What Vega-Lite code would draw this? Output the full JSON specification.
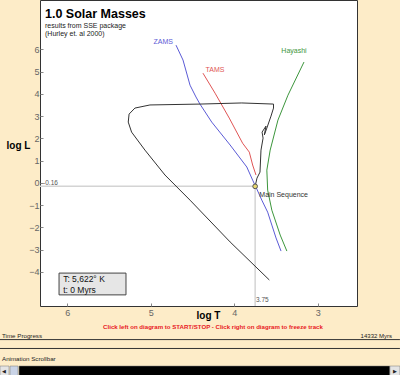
{
  "$schema": "https://vega.github.io/schema/vega-lite/v6.json",
  "width": 317,
  "height": 306,
  "autosize": {"type": "none"},
  "padding": {"left": 40, "top": 0, "right": 43, "bottom": 69},
  "background": "#FDECC8",
  "config": {
    "view": {"fill": "white", "stroke": "#333333", "strokeWidth": 1},
    "axis": {
      "grid": false,
      "domain": false,
      "format": "d",
      "labelOverlap": false,
      "labelFont": "Liberation Sans",
      "labelFontSize": 9,
      "labelColor": "#666666",
      "tickColor": "#888888",
      "tickSize": -3,
      "titleFont": "Liberation Sans",
      "titleFontWeight": "bold",
      "titleFontSize": 10,
      "titleColor": "#000000"
    }
  },
  "datasets": {
    "curves": [
      {"curve": "ZAMS", "order": 1, "logT": 4.698, "logL": 6.19},
      {"curve": "ZAMS", "order": 2, "logT": 4.614, "logL": 5.52},
      {"curve": "ZAMS", "order": 3, "logT": 4.53, "logL": 4.39},
      {"curve": "ZAMS", "order": 4, "logT": 4.459, "logL": 3.86},
      {"curve": "ZAMS", "order": 5, "logT": 4.411, "logL": 3.54},
      {"curve": "ZAMS", "order": 6, "logT": 4.27, "logL": 2.73},
      {"curve": "ZAMS", "order": 7, "logT": 4.05, "logL": 1.70},
      {"curve": "ZAMS", "order": 8, "logT": 3.85, "logL": 0.71},
      {"curve": "ZAMS", "order": 9, "logT": 3.78, "logL": 0.12},
      {"curve": "ZAMS", "order": 10, "logT": 3.73, "logL": -0.28},
      {"curve": "ZAMS", "order": 11, "logT": 3.67, "logL": -0.78},
      {"curve": "ZAMS", "order": 12, "logT": 3.60, "logL": -1.32},
      {"curve": "ZAMS", "order": 13, "logT": 3.55, "logL": -1.90},
      {"curve": "ZAMS", "order": 14, "logT": 3.50, "logL": -2.48},
      {"curve": "ZAMS", "order": 15, "logT": 3.44, "logL": -3.07},
      {"curve": "TAMS", "order": 1, "logT": 4.375, "logL": 4.93},
      {"curve": "TAMS", "order": 2, "logT": 4.23, "logL": 4.03},
      {"curve": "TAMS", "order": 3, "logT": 4.06, "logL": 2.91},
      {"curve": "TAMS", "order": 4, "logT": 3.90, "logL": 1.78},
      {"curve": "TAMS", "order": 5, "logT": 3.82, "logL": 1.38},
      {"curve": "TAMS", "order": 6, "logT": 3.78, "logL": 0.80},
      {"curve": "TAMS", "order": 7, "logT": 3.74, "logL": 0.35},
      {"curve": "Hayashi", "order": 1, "logT": 3.165, "logL": 5.43},
      {"curve": "Hayashi", "order": 2, "logT": 3.357, "logL": 3.94},
      {"curve": "Hayashi", "order": 3, "logT": 3.477, "logL": 2.82},
      {"curve": "Hayashi", "order": 4, "logT": 3.57, "logL": 1.47},
      {"curve": "Hayashi", "order": 5, "logT": 3.61, "logL": 0.57},
      {"curve": "Hayashi", "order": 6, "logT": 3.60, "logL": -0.33},
      {"curve": "Hayashi", "order": 7, "logT": 3.55, "logL": -1.23},
      {"curve": "Hayashi", "order": 8, "logT": 3.45, "logL": -2.35},
      {"curve": "Hayashi", "order": 9, "logT": 3.37, "logL": -3.07},
      {"curve": "track", "order": 1, "logT": 3.75, "logL": -0.16},
      {"curve": "track", "order": 2, "logT": 3.728, "logL": 0.21},
      {"curve": "track", "order": 3, "logT": 3.692, "logL": 0.48},
      {"curve": "track", "order": 4, "logT": 3.68, "logL": 1.47},
      {"curve": "track", "order": 5, "logT": 3.655, "logL": 2.01},
      {"curve": "track", "order": 6, "logT": 3.667, "logL": 2.28},
      {"curve": "track", "order": 7, "logT": 3.62, "logL": 2.55},
      {"curve": "track", "order": 8, "logT": 3.64, "logL": 2.15},
      {"curve": "track", "order": 9, "logT": 3.61, "logL": 2.46},
      {"curve": "track", "order": 10, "logT": 3.56, "logL": 3.0},
      {"curve": "track", "order": 11, "logT": 3.53, "logL": 3.36},
      {"curve": "track", "order": 12, "logT": 3.53, "logL": 3.54},
      {"curve": "track", "order": 13, "logT": 3.91, "logL": 3.59},
      {"curve": "track", "order": 14, "logT": 4.41, "logL": 3.54},
      {"curve": "track", "order": 15, "logT": 5.01, "logL": 3.50},
      {"curve": "track", "order": 16, "logT": 5.19, "logL": 3.36},
      {"curve": "track", "order": 17, "logT": 5.26, "logL": 3.09},
      {"curve": "track", "order": 18, "logT": 5.27, "logL": 2.73},
      {"curve": "track", "order": 19, "logT": 5.23, "logL": 2.28},
      {"curve": "track", "order": 20, "logT": 5.07, "logL": 1.47},
      {"curve": "track", "order": 21, "logT": 4.83, "logL": 0.35},
      {"curve": "track", "order": 22, "logT": 4.53, "logL": -0.78},
      {"curve": "track", "order": 23, "logT": 4.05, "logL": -2.66},
      {"curve": "track", "order": 24, "logT": 3.58, "logL": -4.37}
    ],
    "star": [{"logT": 3.75, "logL": -0.16, "edgeT": 6.327, "edgeL": -5.54}],
    "box": [{"logT": 6.099, "logT2": 5.297, "logL": -4.06, "logL2": -5.04}],
    "labels": [
      {"role": "title", "logT": 6.267, "logL": 7.59, "text": "1.0 Solar Masses"},
      {"role": "sub", "logT": 6.267, "logL": 7.05, "text": "results from SSE package"},
      {"role": "sub", "logT": 6.267, "logL": 6.69, "text": "(Hurley et. al 2000)"},
      {"role": "curve", "curve": "ZAMS", "logT": 4.85, "logL": 6.33, "text": "ZAMS"},
      {"role": "curve", "curve": "TAMS", "logT": 4.23, "logL": 5.07, "text": "TAMS"},
      {"role": "curve", "curve": "Hayashi", "logT": 3.285, "logL": 5.92, "text": "Hayashi"},
      {"role": "ms", "logT": 3.70, "logL": -0.55, "text": "Main Sequence"},
      {"role": "cross", "logT": 6.29, "logL": 0.0, "text": "-0.16"},
      {"role": "cross", "logT": 3.74, "logL": -5.27, "text": "3.75"},
      {"role": "info", "logT": 6.05, "logL": -4.33, "text": "T: 5,622° K"},
      {"role": "info", "logT": 6.05, "logL": -4.82, "text": "t: 0 Myrs"},
      {"role": "red", "logT": 4.255, "logL": -6.49, "text": "Click left on diagram to START/STOP - Click right on diagram to freeze track"},
      {"role": "ui", "logT": 6.782, "logL": -6.89, "text": "Time Progress"},
      {"role": "uiR", "logT": 2.111, "logL": -6.89, "text": "14332 Myrs"},
      {"role": "ui", "logT": 6.782, "logL": -7.93, "text": "Animation Scrollbar"},
      {"role": "arrow", "logT": 6.76, "logL": -8.45, "text": "◀"},
      {"role": "arrow", "logT": 2.075, "logL": -8.45, "text": "▶"}
    ],
    "uilines": [
      {"logT": 6.806, "logT2": 2.016, "logL": -7.05},
      {"logT": 6.806, "logT2": 2.016, "logL": -7.45}
    ],
    "scroll": [
      {"part": "bar", "logT": 6.578, "logT2": 2.136, "logL": -8.24, "logL2": -8.7},
      {"part": "button", "logT": 6.806, "logT2": 6.698, "logL": -8.24, "logL2": -8.7},
      {"part": "thumb", "logT": 6.686, "logT2": 6.59, "logL": -8.24, "logL2": -8.7},
      {"part": "button", "logT": 2.136, "logT2": 2.016, "logL": -8.24, "logL2": -8.7}
    ]
  },
  "layer": [
    {
      "data": {"name": "box"},
      "mark": {"type": "rect", "fill": "#e6e6e6", "stroke": "#444444", "strokeWidth": 1},
      "encoding": {
        "x": {"field": "logT", "type": "quantitative", "scale": {"domain": [2.53, 6.327], "reverse": true, "nice": false, "zero": false},
          "axis": {"values": [3, 4, 5, 6], "labelPadding": 5, "title": "log T", "titleX": 168, "titleY": 9, "titleBaseline": "middle", "titleAlign": "center"}},
        "x2": {"field": "logT2"},
        "y": {"field": "logL", "type": "quantitative", "scale": {"domain": [-5.54, 8.22], "nice": false, "zero": false},
          "axis": {"values": [-4, -3, -2, -1, 0, 1, 2, 3, 4, 5, 6], "tickCount": 12, "labelPadding": 4, "title": "log L", "titleAngle": 0, "titleX": -22, "titleY": 145, "titleBaseline": "middle", "titleAlign": "center"}},
        "y2": {"field": "logL2"}
      }
    },
    {
      "data": {"name": "star"},
      "mark": {"type": "rule", "color": "#d4d4d4", "strokeWidth": 1.5},
      "encoding": {
        "x": {"field": "edgeT", "type": "quantitative"},
        "x2": {"field": "logT"},
        "y": {"field": "logL", "type": "quantitative"}
      }
    },
    {
      "data": {"name": "star"},
      "mark": {"type": "rule", "color": "#d4d4d4", "strokeWidth": 1.5},
      "encoding": {
        "x": {"field": "logT", "type": "quantitative"},
        "y": {"field": "logL", "type": "quantitative"},
        "y2": {"field": "edgeL"}
      }
    },
    {
      "data": {"name": "curves"},
      "mark": {"type": "line", "strokeWidth": 1},
      "encoding": {
        "x": {"field": "logT", "type": "quantitative"},
        "y": {"field": "logL", "type": "quantitative"},
        "order": {"field": "order", "type": "quantitative"},
        "color": {"field": "curve", "type": "nominal", "legend": null,
          "scale": {"domain": ["ZAMS", "TAMS", "Hayashi", "track"], "range": ["#5b5bd6", "#e05555", "#3c963c", "#333333"]}}
      }
    },
    {
      "data": {"name": "star"},
      "mark": {"type": "point", "filled": true, "fill": "#e8d870", "stroke": "#555555", "strokeWidth": 1, "size": 22, "opacity": 1},
      "encoding": {
        "x": {"field": "logT", "type": "quantitative"},
        "y": {"field": "logL", "type": "quantitative"}
      }
    },
    {
      "data": {"name": "labels"},
      "transform": [{"filter": "datum.role === 'title'"}],
      "mark": {"type": "text", "align": "left", "baseline": "middle", "font": "Liberation Sans", "fontWeight": "bold", "fontSize": 12.5, "color": "#000000"},
      "encoding": {"x": {"field": "logT", "type": "quantitative"}, "y": {"field": "logL", "type": "quantitative"}, "text": {"field": "text"}}
    },
    {
      "data": {"name": "labels"},
      "transform": [{"filter": "datum.role === 'sub'"}],
      "mark": {"type": "text", "align": "left", "baseline": "middle", "font": "Liberation Sans", "fontSize": 7, "color": "#222222"},
      "encoding": {"x": {"field": "logT", "type": "quantitative"}, "y": {"field": "logL", "type": "quantitative"}, "text": {"field": "text"}}
    },
    {
      "data": {"name": "labels"},
      "transform": [{"filter": "datum.role === 'curve'"}],
      "mark": {"type": "text", "align": "center", "baseline": "middle", "font": "Liberation Sans", "fontSize": 7},
      "encoding": {"x": {"field": "logT", "type": "quantitative"}, "y": {"field": "logL", "type": "quantitative"}, "text": {"field": "text"},
        "color": {"field": "curve", "type": "nominal", "legend": null}}
    },
    {
      "data": {"name": "labels"},
      "transform": [{"filter": "datum.role === 'ms'"}],
      "mark": {"type": "text", "align": "left", "baseline": "middle", "font": "Liberation Sans", "fontSize": 7, "color": "#333333"},
      "encoding": {"x": {"field": "logT", "type": "quantitative"}, "y": {"field": "logL", "type": "quantitative"}, "text": {"field": "text"}}
    },
    {
      "data": {"name": "labels"},
      "transform": [{"filter": "datum.role === 'cross'"}],
      "mark": {"type": "text", "align": "left", "baseline": "middle", "font": "Liberation Sans", "fontSize": 6.5, "color": "#555555"},
      "encoding": {"x": {"field": "logT", "type": "quantitative"}, "y": {"field": "logL", "type": "quantitative"}, "text": {"field": "text"}}
    },
    {
      "data": {"name": "labels"},
      "transform": [{"filter": "datum.role === 'info'"}],
      "mark": {"type": "text", "align": "left", "baseline": "middle", "font": "Liberation Sans", "fontSize": 8.5, "color": "#111111"},
      "encoding": {"x": {"field": "logT", "type": "quantitative"}, "y": {"field": "logL", "type": "quantitative"}, "text": {"field": "text"}}
    },
    {
      "data": {"name": "labels"},
      "transform": [{"filter": "datum.role === 'red'"}],
      "mark": {"type": "text", "align": "center", "baseline": "middle", "font": "Liberation Sans", "fontWeight": "bold", "fontSize": 6.1, "color": "#e8191e"},
      "encoding": {"x": {"field": "logT", "type": "quantitative"}, "y": {"field": "logL", "type": "quantitative"}, "text": {"field": "text"}}
    },
    {
      "data": {"name": "labels"},
      "transform": [{"filter": "datum.role === 'ui'"}],
      "mark": {"type": "text", "align": "left", "baseline": "middle", "font": "Liberation Sans", "fontSize": 6.2, "color": "#222222"},
      "encoding": {"x": {"field": "logT", "type": "quantitative"}, "y": {"field": "logL", "type": "quantitative"}, "text": {"field": "text"}}
    },
    {
      "data": {"name": "labels"},
      "transform": [{"filter": "datum.role === 'uiR'"}],
      "mark": {"type": "text", "align": "right", "baseline": "middle", "font": "Liberation Sans", "fontSize": 6, "color": "#222222"},
      "encoding": {"x": {"field": "logT", "type": "quantitative"}, "y": {"field": "logL", "type": "quantitative"}, "text": {"field": "text"}}
    },
    {
      "data": {"name": "uilines"},
      "mark": {"type": "rule", "color": "#333333", "strokeWidth": 1},
      "encoding": {"x": {"field": "logT", "type": "quantitative"}, "x2": {"field": "logT2"}, "y": {"field": "logL", "type": "quantitative"}}
    },
    {
      "data": {"name": "scroll"},
      "mark": {"type": "rect", "stroke": "#777777", "strokeWidth": 0.5},
      "encoding": {"x": {"field": "logT", "type": "quantitative"}, "x2": {"field": "logT2"}, "y": {"field": "logL", "type": "quantitative"}, "y2": {"field": "logL2"},
        "fill": {"field": "part", "type": "nominal", "legend": null, "scale": {"domain": ["bar", "button", "thumb"], "range": ["#000000", "#e4e4e4", "#c9d3e6"]}}}
    },
    {
      "data": {"name": "labels"},
      "transform": [{"filter": "datum.role === 'arrow'"}],
      "mark": {"type": "text", "align": "center", "baseline": "middle", "font": "DejaVu Sans", "fontSize": 5, "color": "#222222"},
      "encoding": {"x": {"field": "logT", "type": "quantitative"}, "y": {"field": "logL", "type": "quantitative"}, "text": {"field": "text"}}
    }
  ]
}
